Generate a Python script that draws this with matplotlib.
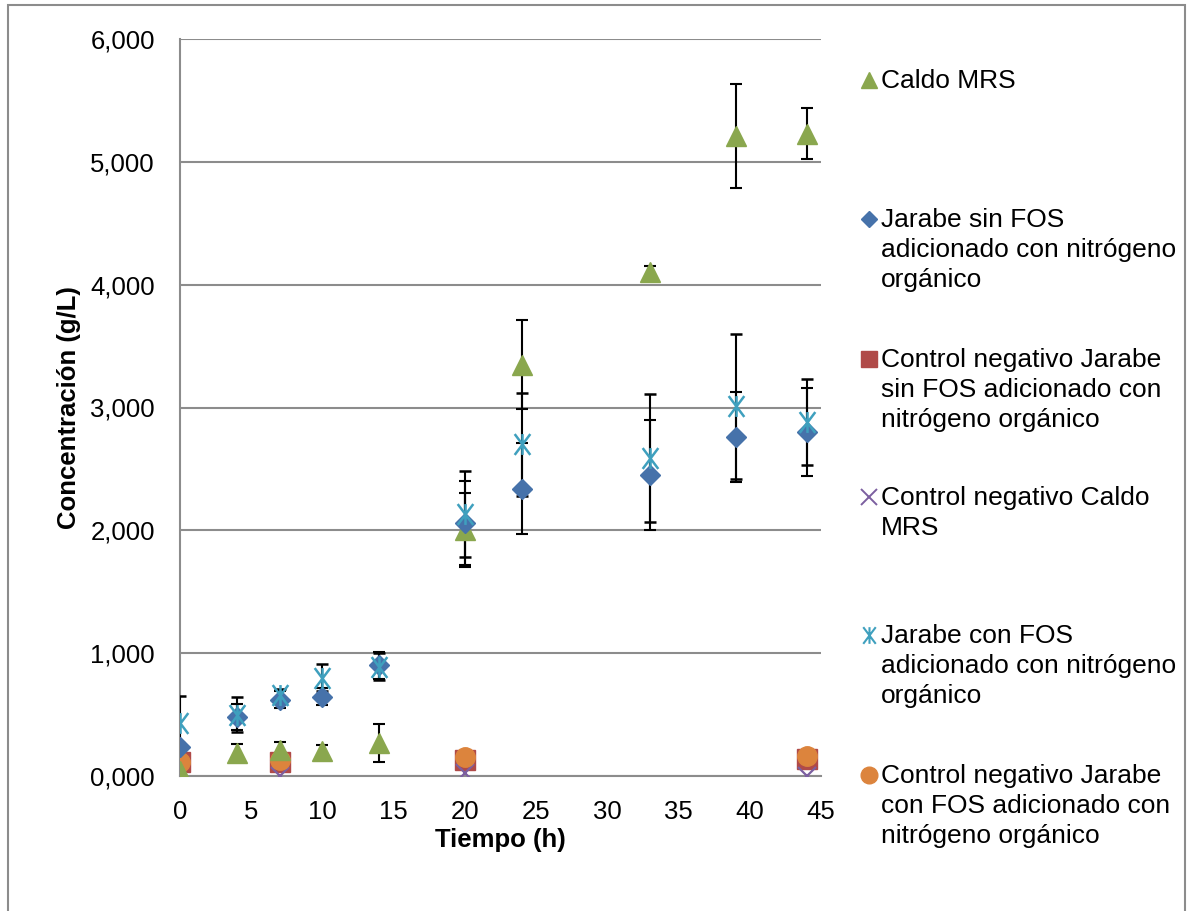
import numpy as np
import matplotlib
matplotlib.use("Agg")
import matplotlib.pyplot as plt
from matplotlib.lines import Line2D
from matplotlib.patches import Rectangle
from matplotlib.path import Path
from matplotlib.ticker import FuncFormatter

plt.rcParams['font.family'] = ['Liberation Sans', 'DejaVu Sans']

# tiempo de muestreo (h)
t = [0, 4, 7, 10, 14, 20, 24, 33, 39, 44]
t_ctrl = [0, 7, 20, 44]

# concentraciones (g/L) y desviaciones
caldo_mrs = [0.04, 0.19, 0.21, 0.20, 0.27, 2.00, 3.35, 4.10, 5.21, 5.23]
caldo_mrs_err = [0.02, 0.07, 0.065, 0.055, 0.152, 0.30, 0.36, 0.05, 0.42, 0.21]

jarabe_sin = [0.24, 0.48, 0.62, 0.645, 0.90, 2.06, 2.34, 2.45, 2.76, 2.80]
jarabe_sin_err = [0.03, 0.105, 0.068, 0.07, 0.11, 0.34, 0.37, 0.45, 0.37, 0.355]

ctrl_jarabe_sin = [0.117, 0.117, 0.130, 0.135]
ctrl_caldo_mrs = [0.022, 0.0, 0.024, 0.0]

jarabe_con = [0.43, 0.50, 0.66, 0.80, 0.89, 2.13, 2.70, 2.59, 3.01, 2.88]
jarabe_con_err = [0.22, 0.14, 0.05, 0.11, 0.11, 0.35, 0.42, 0.52, 0.59, 0.35]

ctrl_jarabe_con = [0.117, 0.130, 0.157, 0.160]

labels = [
    "Caldo MRS",
    "Jarabe sin FOS\nadicionado con nitrógeno\norgánico",
    "Control negativo Jarabe\nsin FOS adicionado con\nnitrógeno orgánico",
    "Control negativo Caldo\nMRS",
    "Jarabe con FOS\nadicionado con nitrógeno\norgánico",
    "Control negativo Jarabe\ncon FOS adicionado con\nnitrógeno orgánico",
]

c_green = "#8aa74e"
c_blue = "#4672aa"
c_red = "#b04a48"
c_purple = "#7c5fa0"
c_cyan = "#3fa0be"
c_orange = "#dc843d"

# asterisco: una X con un trazo vertical
ast = Path(
    [(-0.75, -1), (0.75, 1), (-0.75, 1), (0.75, -1), (0, -1), (0, 1)],
    [Path.MOVETO, Path.LINETO, Path.MOVETO, Path.LINETO, Path.MOVETO, Path.LINETO],
)

W, H = 1190, 911
fig = plt.figure(figsize=(W / 100, H / 100), dpi=100)
ax = fig.add_axes([180 / W, 1 - 776 / H, 641 / W, 737 / H])

eb = dict(ecolor="black", elinewidth=1.5, capsize=4, capthick=1.5, linestyle="none")

ax.errorbar(t, caldo_mrs, yerr=caldo_mrs_err, marker="^", ms=14, color=c_green, zorder=3, **eb)
ax.errorbar(t, jarabe_sin, yerr=jarabe_sin_err, marker="D", ms=10, color=c_blue, zorder=3, **eb)
ax.plot(t_ctrl, ctrl_jarabe_sin, "s", ms=14, color=c_red, linestyle="none", zorder=3)
ax.plot(t_ctrl, ctrl_caldo_mrs, "x", ms=13, mew=1.6, color=c_purple, linestyle="none", zorder=3)
ax.errorbar(t, jarabe_con, yerr=jarabe_con_err, marker=ast, ms=15, mew=1.8,
            mfc="none", mec=c_cyan, zorder=3, **eb)
ax.plot(t_ctrl, ctrl_jarabe_con, "o", ms=14, color=c_orange, linestyle="none", zorder=3)

ax.set_xlim(0, 45)
ax.set_ylim(0, 6)
ax.set_xticks(np.arange(0, 46, 5))
ax.set_yticks(np.arange(0, 7, 1))
ax.yaxis.set_major_formatter(FuncFormatter(lambda v, p: f"{v:.3f}".replace(".", ",")))
ax.tick_params(axis="both", length=0, labelsize=18.5)
ax.tick_params(axis="y", pad=18)
ax.tick_params(axis="x", pad=17)
ax.grid(axis="y", color="#8c8c8c", linewidth=1.5)
ax.set_axisbelow(True)
for s in ["top", "right"]:
    ax.spines[s].set_visible(False)
for s in ["left", "bottom"]:
    ax.spines[s].set_color("#8c8c8c")
    ax.spines[s].set_linewidth(1.5)

ax.set_xlabel("Tiempo (h)", fontsize=18.5, fontweight="bold", labelpad=3)
ax.set_ylabel("Concentración (g/L)", fontsize=18.5, fontweight="bold", labelpad=7)

# leyenda a la derecha, una línea de texto a la vez
leg_marks = [
    dict(marker="^", ms=12, color=c_green),
    dict(marker="D", ms=8, color=c_blue),
    dict(marker="s", ms=11, color=c_red),
    dict(marker="x", ms=11, mew=1.4, color=c_purple),
    dict(marker=ast, ms=12, mew=1.5, mfc="none", mec=c_cyan),
    dict(marker="o", ms=12, color=c_orange),
]
baselines = [88, 227, 367, 505, 643, 783]
for lab, mk, b in zip(labels, leg_marks, baselines):
    fig.add_artist(Line2D([869 / W], [1 - (b - 8) / H], transform=fig.transFigure,
                          linestyle="none", **mk))
    for i, line in enumerate(lab.split("\n")):
        fig.text(881 / W, 1 - (b + 30 * i) / H, line, fontsize=19,
                 va="baseline", ha="left")

# borde del área del gráfico
fig.add_artist(Rectangle((8 / W, -0.05), 1177 / W, 1.05 - 5 / H,
                         transform=fig.transFigure, fill=False,
                         edgecolor="#8c8c8c", linewidth=1.5))

fig.savefig("out.png", dpi=100)
